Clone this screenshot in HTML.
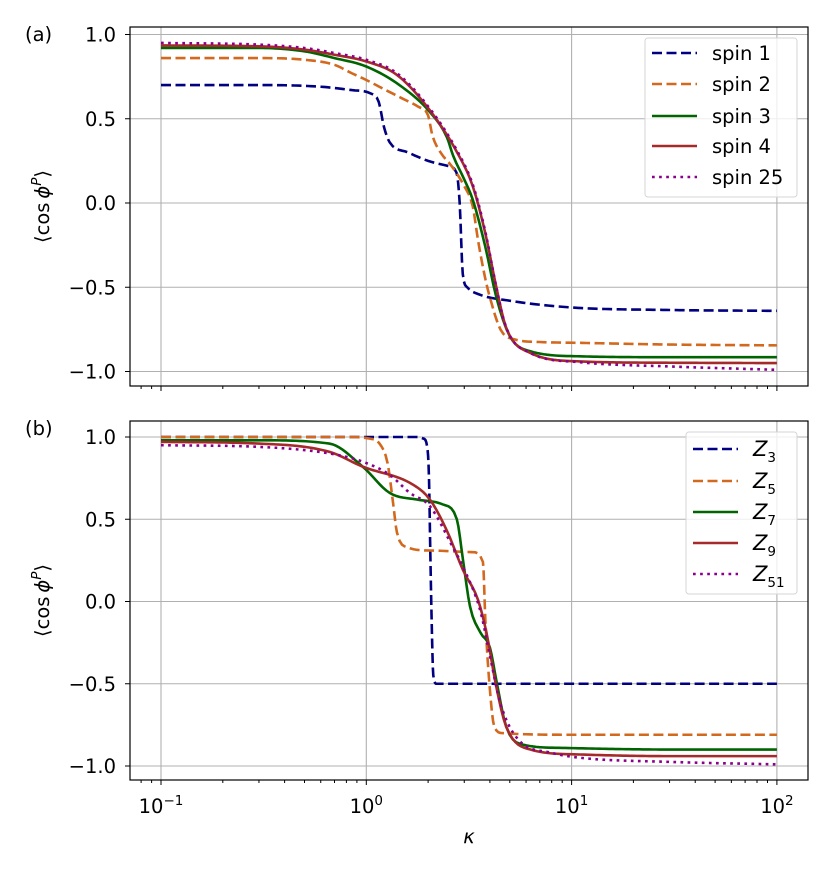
<!DOCTYPE html>
<html><head><meta charset="utf-8"><style>
html,body{margin:0;padding:0;background:#fff;}
svg{display:block;font-family:"DejaVu Sans","Liberation Sans",sans-serif;}
</style></head><body>
<svg id="fig" width="830" height="876" viewBox="0 0 830 876" xmlns="http://www.w3.org/2000/svg"></svg>
<script>
// ---- data (kappa values and <cos phi^P>) ----
const topSpin1K = [0.1,0.3,0.6,0.85,1.05,1.15,1.22,1.3,1.6,2.0,2.5,2.75,2.85,2.95,3.1,3.5,5,10,30,100];
const topSpin1V = [0.70,0.70,0.69,0.67,0.65,0.60,0.45,0.36,0.30,0.25,0.22,0.18,0.0,-0.42,-0.50,-0.54,-0.58,-0.62,-0.635,-0.64];
const topSpin2K = [0.1,0.3,0.5,0.7,0.85,1.0,1.2,1.5,1.8,2.0,2.1,2.3,2.6,3.0,3.3,3.5,3.8,4.0,4.5,5.3,7,11,30,100];
const topSpin2V = [0.86,0.86,0.85,0.82,0.77,0.73,0.68,0.62,0.57,0.52,0.40,0.30,0.22,0.10,-0.02,-0.22,-0.45,-0.56,-0.75,-0.81,-0.825,-0.83,-0.84,-0.845];
const topSpin3K = [0.1,0.3,0.5,0.7,1.0,1.45,2.04,2.47,2.65,3.0,3.3,3.8,4.3,5.0,6.3,11,30,100];
const topSpin3V = [0.92,0.92,0.90,0.86,0.81,0.70,0.54,0.39,0.28,0.14,0.02,-0.26,-0.56,-0.79,-0.88,-0.91,-0.915,-0.915];
const topSpin4K = [0.1,0.3,0.5,0.7,1.0,1.41,2.04,2.77,3.3,3.8,4.3,4.8,6.3,11,30,100];
const topSpin4V = [0.935,0.93,0.91,0.88,0.84,0.76,0.55,0.30,0.10,-0.18,-0.50,-0.74,-0.89,-0.94,-0.948,-0.95];
const topSpin25K = [0.1,0.3,0.5,0.7,1.0,1.41,2.04,2.77,3.3,3.8,4.3,4.8,6.3,11,30,100];
const topSpin25V = [0.95,0.94,0.92,0.89,0.85,0.77,0.56,0.31,0.11,-0.17,-0.50,-0.74,-0.89,-0.945,-0.97,-0.99];

const botZ3K = [0.1,1.0,1.75,1.9,1.98,2.02,2.05,2.08,2.12,2.2,100];
const botZ3V = [1.0,1.0,1.0,0.99,0.94,0.75,0.3,-0.1,-0.45,-0.5,-0.5];
const botZ5K = [0.1,0.8,1.04,1.16,1.27,1.35,1.41,1.58,2.04,3.3,3.7,3.8,3.99,4.2,4.6,10,100];
const botZ5V = [1.0,1.0,0.99,0.96,0.84,0.60,0.42,0.33,0.31,0.30,0.24,-0.11,-0.52,-0.76,-0.80,-0.81,-0.81];
const botZ7K = [0.1,0.3,0.66,0.96,1.3,1.76,2.36,2.76,2.96,3.2,3.6,4.0,4.3,4.8,5.8,9,30,100];
const botZ7V = [0.98,0.98,0.96,0.82,0.66,0.62,0.59,0.50,0.25,-0.03,-0.19,-0.28,-0.48,-0.76,-0.87,-0.89,-0.90,-0.90];
const botZ9K = [0.1,0.3,0.66,0.96,1.69,2.04,2.47,2.96,3.5,3.85,4.3,4.8,6.3,11,30,100];
const botZ9V = [0.97,0.96,0.91,0.82,0.71,0.62,0.43,0.19,0.01,-0.19,-0.52,-0.76,-0.90,-0.93,-0.94,-0.94];
const botZ51K = [0.1,0.3,0.66,0.96,1.3,1.63,2.04,2.64,2.96,3.6,4.0,4.5,5.5,8,11,30,100];
const botZ51V = [0.95,0.94,0.90,0.85,0.77,0.66,0.58,0.33,0.21,-0.06,-0.33,-0.62,-0.84,-0.92,-0.95,-0.975,-0.99];

const topNames = ["spin 1","spin 2","spin 3","spin 4","spin 25"];
const yTickVals = [1.0,0.5,0.0,-0.5,-1.0];
const yTickLabels = ["1.0","0.5","0.0","\u22120.5","\u22121.0"];
const xTickExps = [-1,0,1,2];

const NS="http://www.w3.org/2000/svg";
const svg=document.getElementById('fig');
function mk(tag,attrs,parent){const e=document.createElementNS(NS,tag);for(const k in attrs)e.setAttribute(k,attrs[k]);(parent||svg).appendChild(e);return e;}

const FS="19.5", FSS="13.5";
const L=130,R=808;
const xs=k=>161+(Math.log10(k)+1)*205.3;
const panels=[
 {top:27,bot:386,y:v=>203-v*168.5,label:"(a)",name:"panel-a",series:[
  {k:topSpin1K,v:topSpin1V,c:"#000080",d:"10,4.5",n:"spin-1"},
  {k:topSpin2K,v:topSpin2V,c:"#d2691e",d:"10,4.5",n:"spin-2"},
  {k:topSpin3K,v:topSpin3V,c:"#006400",d:"",n:"spin-3"},
  {k:topSpin4K,v:topSpin4V,c:"#a52a2a",d:"",n:"spin-4"},
  {k:topSpin25K,v:topSpin25V,c:"#8b008b",d:"2.7,4.4",n:"spin-25"}],xl:false,
  leg:{x:645,y:38,w:152,h:159,rows:[53,84,116,146,177]}},
 {top:421,bot:780,y:v=>601.5-v*164.5,label:"(b)",name:"panel-b",series:[
  {k:botZ3K,v:botZ3V,c:"#000080",d:"10,4.5",n:"z3",sub:"3"},
  {k:botZ5K,v:botZ5V,c:"#d2691e",d:"10,4.5",n:"z5",sub:"5"},
  {k:botZ7K,v:botZ7V,c:"#006400",d:"",n:"z7",sub:"7"},
  {k:botZ9K,v:botZ9V,c:"#a52a2a",d:"",n:"z9",sub:"9"},
  {k:botZ51K,v:botZ51V,c:"#8b008b",d:"2.7,4.4",n:"z51",sub:"51"}],xl:true,
  leg:{x:686,y:432,w:111,h:162,rows:[449,481,512,543,574]}}
];

function smooth(K,V){
 const x=K.map(k=>Math.log10(k)),n=x.length,d=[],m=[];
 for(let i=0;i<n-1;i++)d.push((V[i+1]-V[i])/(x[i+1]-x[i]));
 m[0]=d[0];m[n-1]=d[n-2];
 for(let i=1;i<n-1;i++){m[i]=(d[i-1]*d[i]<=0)?0:(d[i-1]+d[i])/2;}
 for(let i=0;i<n-1;i++){if(d[i]===0){m[i]=0;m[i+1]=0;continue;}const a=m[i]/d[i],b=m[i+1]/d[i],s=a*a+b*b;if(s>9){const t=3/Math.sqrt(s);m[i]=t*a*d[i];m[i+1]=t*b*d[i];}}
 const out=[];
 for(let i=0;i<n-1;i++){const h=x[i+1]-x[i];const steps=Math.max(4,Math.ceil(h*60));
  for(let s=0;s<steps;s++){const t=s/steps,t2=t*t,t3=t2*t;
   const v=(2*t3-3*t2+1)*V[i]+(t3-2*t2+t)*h*m[i]+(-2*t3+3*t2)*V[i+1]+(t3-t2)*h*m[i+1];
   out.push([x[i]+t*h,v]);}}
 out.push([x[n-1],V[n-1]]);return out;}

panels.forEach(p=>{
 const g=mk('g',{});
 
 
 xTickExps.forEach(e=>{const X=xs(Math.pow(10,e));const ln=mk('line',{x1:X,x2:X,y1:p.top,y2:p.bot,stroke:"#b0b0b0","stroke-width":1.1},g);
  });
 yTickVals.forEach(v=>{const Y=p.y(v);const ln=mk('line',{x1:L,x2:R,y1:Y,y2:Y,stroke:"#b0b0b0","stroke-width":1.1},g);
  });
 const cid='clip-'+p.name;const cp=mk('clipPath',{id:cid},g);mk('rect',{x:L,y:p.top,width:R-L,height:p.bot-p.top},cp);
 p.series.forEach(s=>{
  const pts=smooth(s.k,s.v).map(([lx,v])=>(161+(lx+1)*205.3).toFixed(2)+","+p.y(v).toFixed(2)).join(" ");
  const a={points:pts,fill:"none",stroke:s.c,"stroke-width":2.6,"clip-path":`url(#${cid})`};
  if(s.d)a["stroke-dasharray"]=s.d;
  const pl=mk('polyline',a,g);
  
  
 });
 const fr=mk('rect',{x:L,y:p.top,width:R-L,height:p.bot-p.top,fill:"none",stroke:"#000","stroke-width":1.2},g);
 
 yTickVals.forEach((v,i)=>{const Y=p.y(v);mk('line',{x1:L-5,x2:L,y1:Y,y2:Y,stroke:"#000","stroke-width":1},g);
  const t=mk('text',{x:L-14,y:Y+7,"text-anchor":"end","font-size":FS},g);t.textContent=yTickLabels[i];
  });
 for(let e=-2;e<=2;e++){for(let m=1;m<=9;m++){const k=m*Math.pow(10,e);const X=xs(k);if(X<L||X>R)continue;
  mk('line',{x1:X,x2:X,y1:p.bot,y2:p.bot+(m===1?5:3),stroke:"#000","stroke-width":1},g);}}
 if(p.xl){xTickExps.forEach(e=>{const X=xs(Math.pow(10,e));const t=mk('text',{x:X,y:813,"text-anchor":"middle","font-size":FS},g);
  t.textContent="10";const ts=mk('tspan',{dy:-8,"font-size":FSS},t);ts.textContent=(e<0?"\u2212":"")+Math.abs(e);
  });}
 const cy=(p.top+p.bot)/2;
 const yt=mk('text',{x:0,y:0,transform:`translate(49,${cy}) rotate(-90)`,"text-anchor":"middle","font-size":FS},g);
 yt.innerHTML='\u27E8cos\u2009<tspan font-style="italic">\u03D5</tspan><tspan dy="-8" font-size="'+FSS+'" font-style="italic">P</tspan><tspan dy="8">\u27E9</tspan>';
 
 const pl=mk('text',{x:25,y:p.top+14,"font-size":FS},g);pl.textContent=p.label;
 
 const lg=mk('g',{},g);
 mk('rect',{x:p.leg.x,y:p.leg.y,width:p.leg.w,height:p.leg.h,rx:3,fill:"#fff","fill-opacity":0.8,stroke:"#d6d6d6","stroke-width":1},lg);
 p.series.forEach((s,i)=>{const Y=p.leg.rows[i];const x0=p.leg.x+7;
  const a={x1:x0,x2:x0+45,y1:Y,y2:Y,stroke:s.c,"stroke-width":2.6};if(s.d)a["stroke-dasharray"]=s.d;
  const ln=mk('line',a,lg);
  const t=mk('text',{x:x0+60,y:Y+7,"font-size":FS},lg);
  if(s.sub){t.innerHTML='<tspan font-style="italic" font-size="21">Z</tspan><tspan dy="6" font-size="'+FSS+'">'+s.sub+'</tspan>';}
  else t.textContent=topNames[i];
  });
});
const xt=mk('text',{x:469,y:843,"text-anchor":"middle","font-size":FS,"font-style":"italic"});
xt.textContent="\u03BA";


</script>
</body></html>
